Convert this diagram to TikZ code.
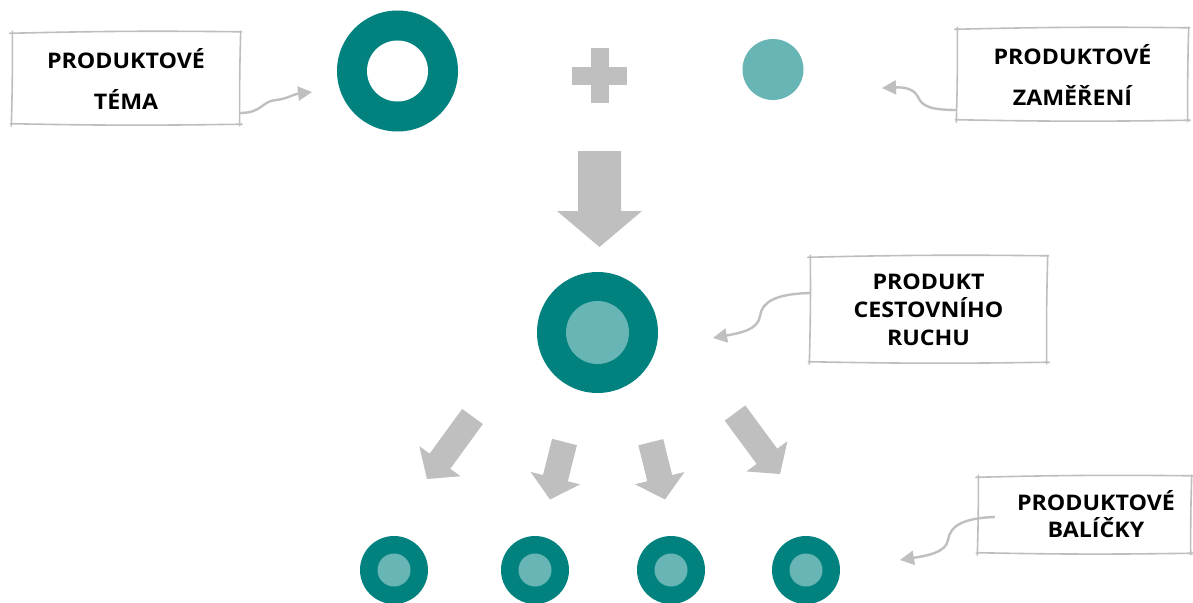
\documentclass[tikz,border=0pt]{standalone}
\usepackage{fontspec}
\newfontfamily\labelfont{Open Sans}[FakeStretch=1.08]
\usetikzlibrary{arrows.meta,calc}

\definecolor{tealdark}{RGB}{2,130,127}
\definecolor{teallight}{RGB}{103,181,181}
\definecolor{arrowgray}{RGB}{191,191,191}
\definecolor{sketchgray}{RGB}{190,190,190}

\tikzset{
  labelbox/.style={rectangle, inner sep=0pt, align=center,
    font=\labelfont\bfseries\fontsize{21.5}{41}\selectfont},
  sketch/.style={draw=sketchgray, line width=1.6pt, line cap=round},
  curvearrow/.style={draw=arrowgray, line width=2.4pt,
    -{Triangle[length=14pt,width=14pt]}},
  blockfill/.style={fill=arrowgray},
  ringouter/.style={circle, fill=tealdark, inner sep=0pt},
  ringinner/.style={circle, inner sep=0pt},
}

% hand-drawn frame around a named node
\newcommand\sketchbox[1]{%
  \draw[sketch] ([shift={(-2,0.5)}]#1.north west) to[bend left=1] ([shift={(1.5,-1)}]#1.north east);
  \draw[sketch] ([shift={(0.5,-1.5)}]#1.north east) to[bend right=1] ([shift={(-0.5,1.5)}]#1.south east);
  \draw[sketch] ([shift={(2,0)}]#1.south east) to[bend left=1] ([shift={(-1.5,-0.5)}]#1.south west);
  \draw[sketch] ([shift={(-0.5,2)}]#1.south west) to[bend right=1] ([shift={(0.5,-1.5)}]#1.north west);
}

% block arrow from tail centre #1 to tip #2
% #3 shaft half width, #4 head half width, #5 head length
\newcommand\blockarrow[5]{%
  \coordinate (ba-h) at ($(#2)!#5!(#1)$);
  \fill[blockfill]
    ($(#1)!#3!90:(#2)$) -- ($(ba-h)!#3!90:(#2)$) -- ($(ba-h)!#4!90:(#2)$)
    -- (#2) --
    ($(ba-h)!#4!-90:(#2)$) -- ($(ba-h)!#3!-90:(#2)$) -- ($(#1)!#3!-90:(#2)$) -- cycle;
}

\begin{document}
\begin{tikzpicture}[x=1pt,y=-1pt]
\useasboundingbox[fill=white] (0,0) rectangle (1193,602);

% --- top row: theme + focus ---
\node[ringouter, minimum size=121pt] (theme) at (397.5,71) {};
\node[ringinner, fill=white, minimum size=61pt] (themehole) at (theme.center) {};

\fill[arrowgray] (590.5,48) rectangle (608.5,103);
\fill[arrowgray] (572,66.5) rectangle (627,84.5);

\node[circle, fill=teallight, inner sep=0pt, minimum size=61pt] (focus) at (773,69.5) {};

% --- main down arrow ---
\coordinate (main-tail) at (599.5,151);
\coordinate (main-tip) at (599.5,247);
\blockarrow{main-tail}{main-tip}{21.5pt}{42.5pt}{36pt}

% --- tourism product ---
\node[ringouter, minimum size=121pt] (product) at (597.5,332.5) {};
\node[ringinner, fill=teallight, minimum size=63pt] (productcore) at (product.center) {};

% --- four spreading arrows ---
\coordinate (a1-tail) at (472.5,416.5);
\coordinate (a1-tip) at (427,479);
\coordinate (a2-tail) at (564.5,442);
\coordinate (a2-tip) at (550,499.5);
\coordinate (a3-tail) at (650.8,442.2);
\coordinate (a3-tip) at (665,499.5);
\coordinate (a4-tail) at (735,413);
\coordinate (a4-tip) at (780,474);
\blockarrow{a1-tail}{a1-tip}{12.8pt}{25.5pt}{22pt}
\blockarrow{a2-tail}{a2-tip}{12.8pt}{25.5pt}{22pt}
\blockarrow{a3-tail}{a3-tip}{12.8pt}{25.5pt}{22pt}
\blockarrow{a4-tail}{a4-tip}{12.8pt}{25.5pt}{22pt}

% --- packages ---
\foreach \n/\x in {1/394,2/535,3/671,4/806}{
  \node[ringouter, minimum size=68pt] (pkg\n) at (\x,570) {};
  \node[ringinner, fill=teallight, minimum size=33pt] (pkgcore\n) at (pkg\n.center) {};
}

% --- labels ---
\node[labelbox, minimum width=228pt, minimum height=91pt] (lab1) at (126,78.5) {PRODUKTOVÉ\\TÉMA};
\node[labelbox, minimum width=231pt, minimum height=91pt] (lab2) at (1072.5,74.5) {PRODUKTOVÉ\\ZAMĚŘENÍ};
\node[labelbox, minimum width=237pt, minimum height=105pt,
      font=\labelfont\bfseries\fontsize{21.5}{28}\selectfont] (lab3) at (928.5,309.5) {PRODUKT\\CESTOVNÍHO\\RUCHU};
\node[labelbox, minimum width=213pt, minimum height=76pt] (lab4) at (1084.5,515) {};
\node[labelbox, font=\labelfont\bfseries\fontsize{21.5}{27}\selectfont] (lab4text) at (1096,514.5) {PRODUKTOVÉ\\BALÍČKY};

\sketchbox{lab1}
\sketchbox{lab2}
\sketchbox{lab3}
\sketchbox{lab4}

% --- curved pointers ---
\coordinate (p1-end) at (312,92);
\coordinate (p2-end) at (882,88);
\coordinate (p3-end) at (713,338);
\coordinate (p4-end) at (900,560);

\draw[curvearrow] ([yshift=-34.5pt]lab1.east) .. controls (262,113) and (262,101) .. (276,100)
  .. controls (287,99) and (294,94) .. (p1-end);
\draw[curvearrow] ([yshift=-35.5pt]lab2.west) .. controls (930,110) and (922,106) .. (918,97)
  .. controls (914,89) and (905,87) .. (p2-end);
\draw[curvearrow] ([yshift=16.5pt]lab3.west) .. controls (775,294) and (762,302) .. (760,316)
  .. controls (758,330) and (740,333) .. (p3-end);
\draw[curvearrow] ([xshift=17pt,yshift=-2pt]lab4.west) .. controls (965,518) and (950,525) .. (948,540)
  .. controls (946,553) and (925,556) .. (p4-end);

\end{tikzpicture}
\end{document}
